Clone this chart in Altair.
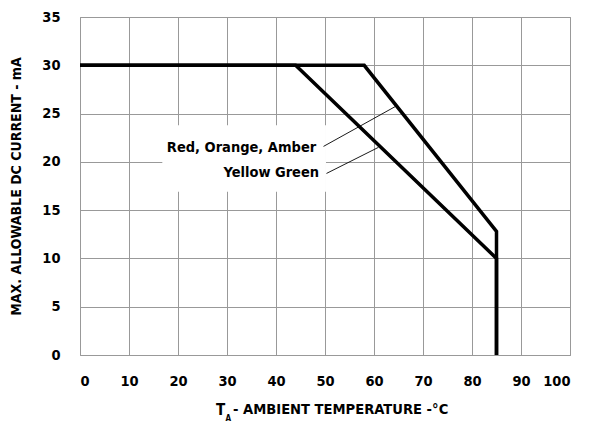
import altair as alt
import pandas as pd

# Curve data
temp_roa = [0, 58, 85, 85]
cur_roa = [30, 30, 12.8, 0]
temp_yg = [0, 44, 85, 85]
cur_yg = [30, 30, 10, 0]

x_ticks = [0, 10, 20, 30, 40, 50, 60, 70, 80, 90, 100]
y_ticks = [0, 5, 10, 15, 20, 25, 30, 35]

label_text = ["Red, Orange, Amber", "Yellow Green"]
label_x = [48.2, 48.8]
label_y = [21.4, 18.8]
leader_x1 = [49.7, 50.3]
leader_y1 = [21.6, 18.8]
leader_x2 = [64.6, 60.9]
leader_y2 = [25.8, 21.5]

box_x1, box_x2, box_y1, box_y2 = [16.8], [50.2], [16.9], [23.8]

FONT = "DejaVu Sans Condensed, DejaVu Sans, sans-serif"

rows = []
for i, (t, c) in enumerate(zip(temp_roa, cur_roa)):
    rows.append({"series": "Red, Orange, Amber", "t": t, "c": c, "o": i})
for i, (t, c) in enumerate(zip(temp_yg, cur_yg)):
    rows.append({"series": "Yellow Green", "t": t, "c": c, "o": i})
df = pd.DataFrame(rows)

xs = alt.Scale(domain=[0, 100], nice=False)
ys = alt.Scale(domain=[0, 35], nice=False)

box_df = pd.DataFrame({"x1": box_x1, "x2": box_x2, "y1": box_y1, "y2": box_y2})
box = alt.Chart(box_df).mark_rect(color="white").encode(
    x=alt.X("x1:Q", scale=xs, axis=alt.Axis(values=x_ticks, title=None, labelPadding=19)),
    x2="x2:Q",
    y=alt.Y("y1:Q", scale=ys, axis=alt.Axis(values=y_ticks, title="MAX. ALLOWABLE DC CURRENT - mA",
                                             labelPadding=20, titlePadding=18)),
    y2="y2:Q",
)

lines = alt.Chart(df).mark_line(color="black", strokeWidth=3.5, strokeJoin="miter").encode(
    x=alt.X("t:Q", scale=xs), y=alt.Y("c:Q", scale=ys), detail="series:N", order="o:Q"
)

lead_df = pd.DataFrame({"x1": leader_x1, "y1": leader_y1, "x2": leader_x2, "y2": leader_y2})
leaders = alt.Chart(lead_df).mark_rule(color="black", strokeWidth=0.9).encode(
    x=alt.X("x1:Q", scale=xs), y=alt.Y("y1:Q", scale=ys), x2="x2:Q", y2="y2:Q"
)

lab_df = pd.DataFrame({"text": label_text, "x": label_x, "y": label_y})
labels = alt.Chart(lab_df).mark_text(align="right", baseline="middle", font=FONT,
                                     fontWeight="bold", fontSize=14.5, color="black").encode(
    x=alt.X("x:Q", scale=xs), y=alt.Y("y:Q", scale=ys), text="text:N"
)

# x-axis title with subscript
t_df = pd.DataFrame({"a": [0]})
title_T = alt.Chart(t_df).mark_text(align="left", baseline="middle", font=FONT, fontWeight="bold",
                                    fontSize=15, color="black", text="T").encode(
    x=alt.value(136), y=alt.value(393))
title_A = alt.Chart(t_df).mark_text(align="left", baseline="middle", font=FONT, fontWeight="bold",
                                    fontSize=8, color="black", text="A").encode(
    x=alt.value(145.5), y=alt.value(402))
title_rest = alt.Chart(t_df).mark_text(align="left", baseline="middle", font=FONT, fontWeight="bold",
                                       fontSize=14.6, color="black",
                                       text="- AMBIENT TEMPERATURE -°C").encode(
    x=alt.value(153), y=alt.value(393))

chart = alt.layer(box, lines, leaders, labels, title_T, title_A, title_rest).properties(
    width=490, height=338,
    padding={"left": 80, "top": 17, "right": 19, "bottom": 69},
    autosize=alt.AutoSizeParams(type="none"),
    background="white",
).configure_axis(
    grid=True, gridColor="#999999", gridWidth=1, ticks=False, domain=False,
    labelFont=FONT, labelFontWeight="bold", labelFontSize=14.5, labelColor="black",
    titleFont=FONT, titleFontWeight="bold", titleFontSize=14, titleColor="black",
).configure_view(stroke="#999999", strokeWidth=1)

chart.save("out.html", embed_options={"renderer": "svg", "actions": False})
